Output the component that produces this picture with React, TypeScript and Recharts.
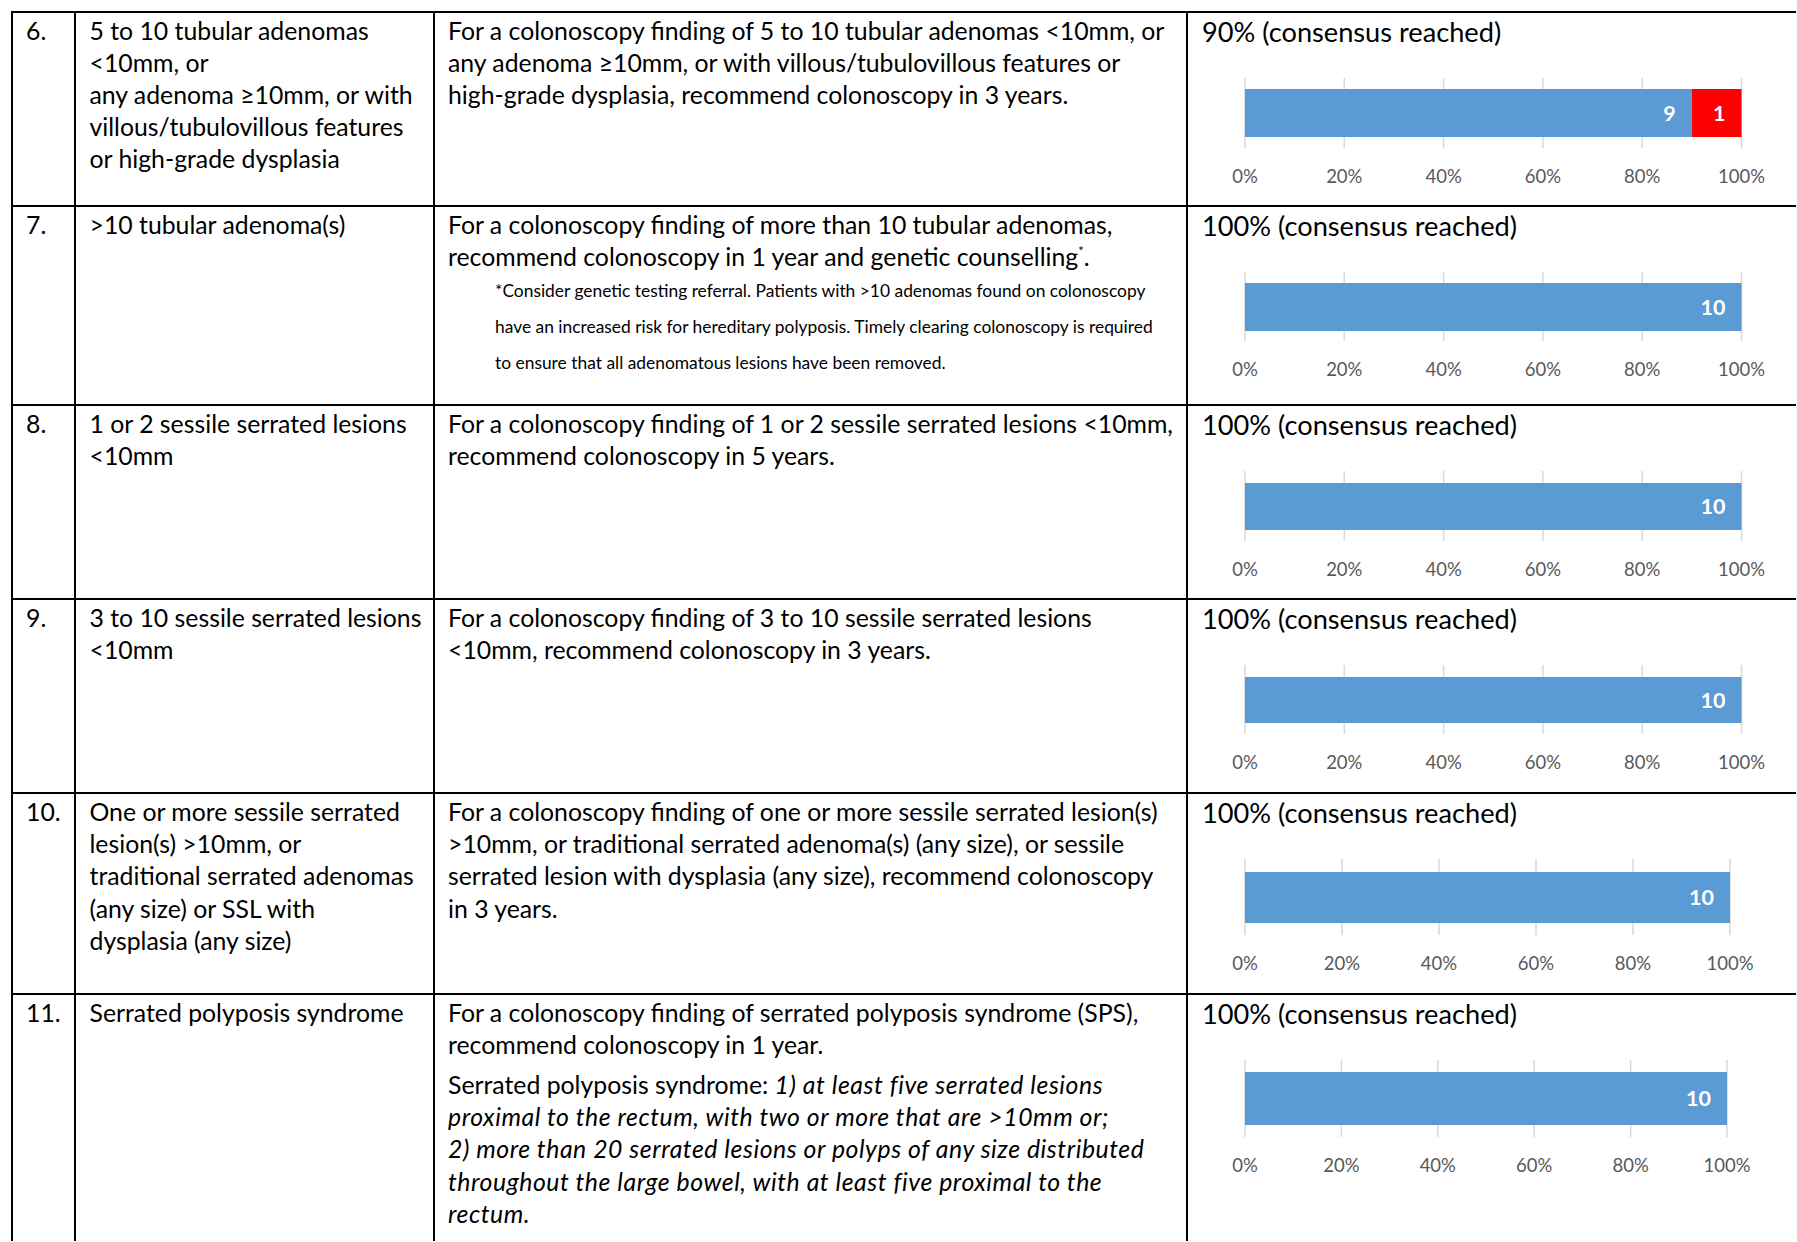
import React from 'react';
import { BarChart, Bar, XAxis, YAxis, CartesianGrid, LabelList } from 'recharts';

// ---------- data ----------
const statementNumbers = ['6.', '7.', '8.', '9.', '10.', '11.'];
const agreeCounts = [9, 10, 10, 10, 10, 10];
const disagreeCounts = [1, 0, 0, 0, 0, 0];
const percentTicks = [0, 20, 40, 60, 80, 100];

const findingLines: string[][] = [
  ['5 to 10 tubular adenomas', '<10mm, or', 'any adenoma ≥10mm, or with', 'villous/tubulovillous features', 'or high-grade dysplasia'],
  ['>10 tubular adenoma(s)'],
  ['1 or 2 sessile serrated lesions', '<10mm'],
  ['3 to 10 sessile serrated lesions', '<10mm'],
  ['One or more sessile serrated', 'lesion(s) >10mm, or', 'traditional serrated adenomas', '(any size) or SSL with', 'dysplasia (any size)'],
  ['Serrated polyposis syndrome'],
];

const recommendationLines: string[][] = [
  ['For a colonoscopy finding of 5 to 10 tubular adenomas <10mm, or', 'any adenoma ≥10mm, or with villous/tubulovillous features or', 'high-grade dysplasia, recommend colonoscopy in 3 years.'],
  ['For a colonoscopy finding of more than 10 tubular adenomas,', 'recommend colonoscopy in 1 year and genetic counselling'],
  ['For a colonoscopy finding of 1 or 2 sessile serrated lesions <10mm,', 'recommend colonoscopy in 5 years.'],
  ['For a colonoscopy finding of 3 to 10 sessile serrated lesions', '<10mm, recommend colonoscopy in 3 years.'],
  ['For a colonoscopy finding of one or more sessile serrated lesion(s)', '>10mm, or traditional serrated adenoma(s) (any size), or sessile', 'serrated lesion with dysplasia (any size), recommend colonoscopy', 'in 3 years.'],
  ['For a colonoscopy finding of serrated polyposis syndrome (SPS),', 'recommend colonoscopy in 1 year.'],
];

const footnoteLines = [
  '*Consider genetic testing referral. Patients with >10 adenomas found on colonoscopy',
  'have an increased risk for hereditary polyposis. Timely clearing colonoscopy is required',
  'to ensure that all adenomatous lesions have been removed.',
];

const spsDefinitionLines: { text: string; italic: boolean }[][] = [
  [{ text: 'Serrated polyposis syndrome: ', italic: false }, { text: '1) at least five serrated lesions', italic: true }],
  [{ text: 'proximal to the rectum, with two or more that are >10mm or;', italic: true }],
  [{ text: '2) more than 20 serrated lesions or polyps of any size distributed', italic: true }],
  [{ text: 'throughout the large bowel, with at least five proximal to the', italic: true }],
  [{ text: 'rectum.', italic: true }],
];

// ---------- layout ----------
const FONT = 'Lato, "Noto Sans", sans-serif';
const ROW_TOPS = [11.5, 206, 404.5, 599, 793, 993.6];
const COL_X = [12, 74.5, 433.5, 1187];
const PLOT_LEFT = 1244.5;
const PLOT_W = [496.5, 496.5, 496.5, 496.5, 485, 482];
const PLOT_H = [70, 69, 70, 69, 76, 77];
const BAR_SIZE = [48, 48, 47, 46, 51, 53];
const LINE_H = 32.2;
const BODY_SIZE = 24.8;

const ConsensusChart = ({ index }: { index: number }) => {
  const agree = agreeCounts[index];
  const disagree = disagreeCounts[index];
  const total = agree + disagree;
  const data = [
    { name: 'votes', agreePct: (agree / total) * 100, disagreePct: (disagree / total) * 100, agree, disagree },
  ];
  const ml = 40;
  const mr = 40;
  const mt = 4;
  const axisH = 50;
  const hideZero = (v: any) => (Number(v) > 0 ? v : '');
  return (
    <div style={{ position: 'absolute', left: PLOT_LEFT - ml, top: ROW_TOPS[index] + 66 - mt }}>
      <BarChart
        width={PLOT_W[index] + ml + mr}
        height={mt + PLOT_H[index] + axisH}
        data={data}
        layout="vertical"
        margin={{ top: mt, right: mr, left: ml, bottom: 0 }}
        barSize={BAR_SIZE[index]}
      >
        <CartesianGrid horizontal={false} stroke="#d9d9d9" strokeWidth={1.5} />
        <XAxis
          type="number"
          domain={[0, 100]}
          ticks={percentTicks}
          interval={0}
          tickFormatter={(v: number) => `${v}%`}
          axisLine={false}
          tickLine={false}
          tickMargin={16}
          height={axisH}
          tick={{ fill: '#595959', fontSize: 18.5, fontFamily: FONT }}
        />
        <YAxis type="category" dataKey="name" hide />
        <Bar dataKey="agreePct" stackId="v" fill="#5b9bd5" isAnimationActive={false}>
          <LabelList dataKey="agree" position="insideRight" offset={16} fill="#ffffff" fontWeight="bold" fontSize={21.5} fontFamily={FONT} formatter={hideZero} />
        </Bar>
        <Bar dataKey="disagreePct" stackId="v" fill="#ff0000" isAnimationActive={false}>
          <LabelList dataKey="disagree" position="insideRight" offset={16} fill="#ffffff" fontWeight="bold" fontSize={21.5} fontFamily={FONT} formatter={hideZero} />
        </Bar>
      </BarChart>
    </div>
  );
};

const lineStyle: React.CSSProperties = { whiteSpace: 'nowrap', height: LINE_H, lineHeight: `${LINE_H}px` };

export default function App() {
  const hLines = ROW_TOPS.map((y, i) => (
    <div key={`h${i}`} style={{ position: 'absolute', left: COL_X[0] - 1, top: y - 1, width: 1797 - COL_X[0], height: 2, background: '#000' }} />
  ));
  const vLines = COL_X.map((x, i) => (
    <div key={`v${i}`} style={{ position: 'absolute', left: x - 1, top: ROW_TOPS[0] - 1, width: 2, height: 1242 - ROW_TOPS[0], background: '#000' }} />
  ));
  return (
    <div style={{ position: 'absolute', left: 0, top: 0, width: 1797, height: 1242, overflow: 'hidden', background: '#fff', fontFamily: FONT, color: '#000', fontSize: BODY_SIZE }}>
      {hLines}
      {vLines}
      {statementNumbers.map((num, i) => {
        const top = ROW_TOPS[i] + 3;
        const total = agreeCounts[i] + disagreeCounts[i];
        const pct = Math.round((agreeCounts[i] / total) * 100);
        return (
          <React.Fragment key={num}>
            <div style={{ position: 'absolute', left: 26, top, ...lineStyle }}>{num}</div>
            <div style={{ position: 'absolute', left: 89.5, top }}>
              {findingLines[i].map((l, j) => (
                <div key={j} style={lineStyle}>{l}</div>
              ))}
            </div>
            <div style={{ position: 'absolute', left: 448, top }}>
              {recommendationLines[i].map((l, j) => (
                <div key={j} style={lineStyle}>
                  {l}
                  {i === 1 && j === 1 ? (
                    <>
                      <sup style={{ fontSize: 13, verticalAlign: 'top', lineHeight: '20px' }}>*</sup>.
                    </>
                  ) : null}
                </div>
              ))}
              {i === 1 ? (
                <div style={{ marginLeft: 47, marginTop: 0, fontSize: 17.4 }}>
                  {footnoteLines.map((l, j) => (
                    <div key={j} style={{ whiteSpace: 'nowrap', height: 35.6, lineHeight: '35.6px' }}>{l}</div>
                  ))}
                </div>
              ) : null}
              {i === 5 ? (
                <div style={{ marginTop: 8 }}>
                  {spsDefinitionLines.map((segs, j) => (
                    <div key={j} style={lineStyle}>
                      {segs.map((s, k) => (
                        <span key={k} style={{ fontStyle: s.italic ? 'italic' : 'normal', letterSpacing: s.italic ? 0.55 : 0 }}>{s.text}</span>
                      ))}
                    </div>
                  ))}
                </div>
              ) : null}
            </div>
            <div style={{ position: 'absolute', left: 1202, top: ROW_TOPS[i], whiteSpace: 'nowrap', fontSize: 27.2, lineHeight: '40px' }}>
              {`${pct}% (consensus reached)`}
            </div>
            <ConsensusChart index={i} />
          </React.Fragment>
        );
      })}
    </div>
  );
}
